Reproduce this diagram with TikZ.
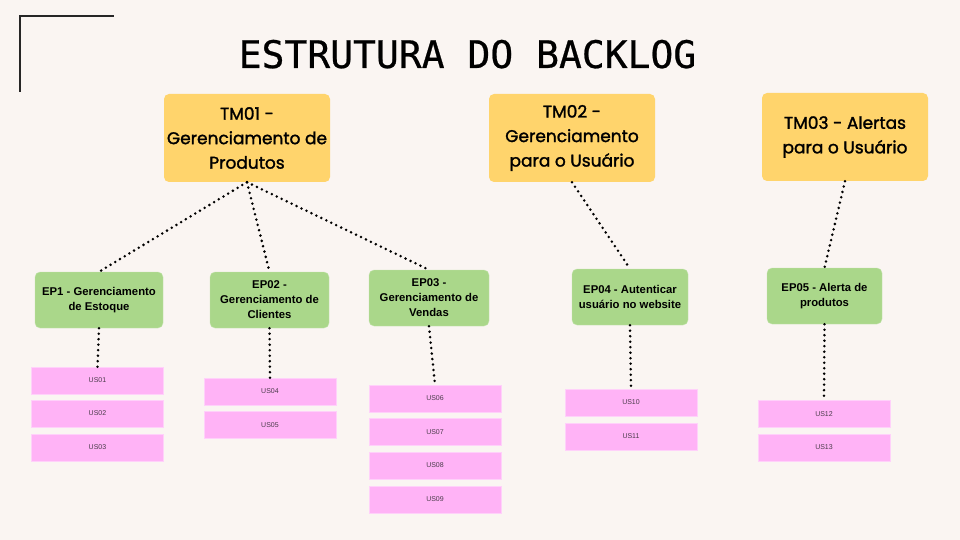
\documentclass[tikz,border=0pt]{standalone}
\usepackage{fontspec}
\setmainfont{Liberation Sans}
\newfontfamily\tmfont{Poppins}[FakeBold=1.6]
\newfontfamily\titlefont{DejaVu Sans Mono}[FakeBold=0.6]
\usetikzlibrary{positioning, calc}

\definecolor{bgpaper}{HTML}{FAF5F2}
\definecolor{tmyellow}{HTML}{FFD46C}
\definecolor{epgreen}{HTML}{AAD78A}
\definecolor{uspink}{HTML}{FFB3F6}
\definecolor{ustext}{HTML}{4A3C4A}

\tikzset{
    tmbox/.style={fill=tmyellow, rounded corners=5pt, minimum width=166pt, minimum height=88pt,
        align=center, inner sep=0pt, font=\tmfont\fontsize{17}{24.5}\selectfont},
    epbox/.style={fill=epgreen, draw=epgreen!70!white, rounded corners=5pt, minimum height=56pt,
        align=center, inner sep=0pt, font=\bfseries\fontsize{11.3}{15}\selectfont},
    usbox/.style={fill=uspink, draw=uspink!60!white, minimum width=132pt, minimum height=27pt,
        inner sep=0pt, text=ustext, font=\fontsize{7}{8}\selectfont},
    dots/.style={line width=2.8pt, dash pattern=on 0pt off 5.5pt, line cap=round},
}

\begin{document}
\begin{tikzpicture}[x=1pt, y=-1pt]
        \fill[bgpaper] (0,0) rectangle (960,540);
        \useasboundingbox (0,0) rectangle (960,540);

        % corner and title
        \draw[line width=2pt, black!85] (20,92) -- (20,16) -- (114,16);
        \node[anchor=base, font=\titlefont\fontsize{38}{40}\selectfont] (title) at (467.5,68) {ESTRUTURA DO BACKLOG};

        % themes
        \node[tmbox] (tm1) at (247,138) {TM01 -\\Gerenciamento de\\Produtos};
        \node[tmbox] (tm2) at (572,138) {TM02 -\\Gerenciamento\\para o Usuário};
        \node[tmbox] (tm3) at (845,137) {TM03 - Alertas\\para o Usuário};

        % epics
        \node[epbox, minimum width=128pt] (ep1) at (99,300) {EP1 - Gerenciamento\\de Estoque};
        \node[epbox, minimum width=119pt] (ep2) at (269.5,300) {EP02 -\\Gerenciamento de\\Clientes};
        \node[epbox, minimum width=120pt] (ep3) at (429,298) {EP03 -\\Gerenciamento de\\Vendas};
        \node[epbox, minimum width=116pt] (ep4) at (630,297) {EP04 - Autenticar\\usuário no website};
        \node[epbox, minimum width=115pt] (ep5) at (824.5,296) {EP05 - Alerta de\\produtos};

        % user stories
        \foreach \n/\x/\y in {01/97.5/380.5, 02/97.5/413.5, 03/97.5/447.5,
                              04/270/391.5, 05/270/425,
                              06/435/398.5, 07/435/432, 08/435/465.5, 09/435/499.5,
                              10/631/402.5, 11/631/436.5,
                              12/824/414, 13/824/447.5} {
            \node[usbox] (us\n) at (\x,\y) {US\n};
        }

        \draw[dots] (tm1.south) -- (ep1.north);
        \draw[dots] (tm1.south) -- (ep2.north);
        \draw[dots] (tm1.south) -- (ep3.north);
        \draw[dots] (tm2.south) -- (ep4.north);
        \draw[dots] (tm3.south) -- (ep5.north);

        \draw[dots] (ep1.south) -- (us01.north);
        \draw[dots] (ep2.south) -- (us04.north);
        \draw[dots] (ep3.south) -- (us06.north);
        \draw[dots] (ep4.south) -- (us10.north);
        \draw[dots] (ep5.south) -- (us12.north);
\end{tikzpicture}
\end{document}
